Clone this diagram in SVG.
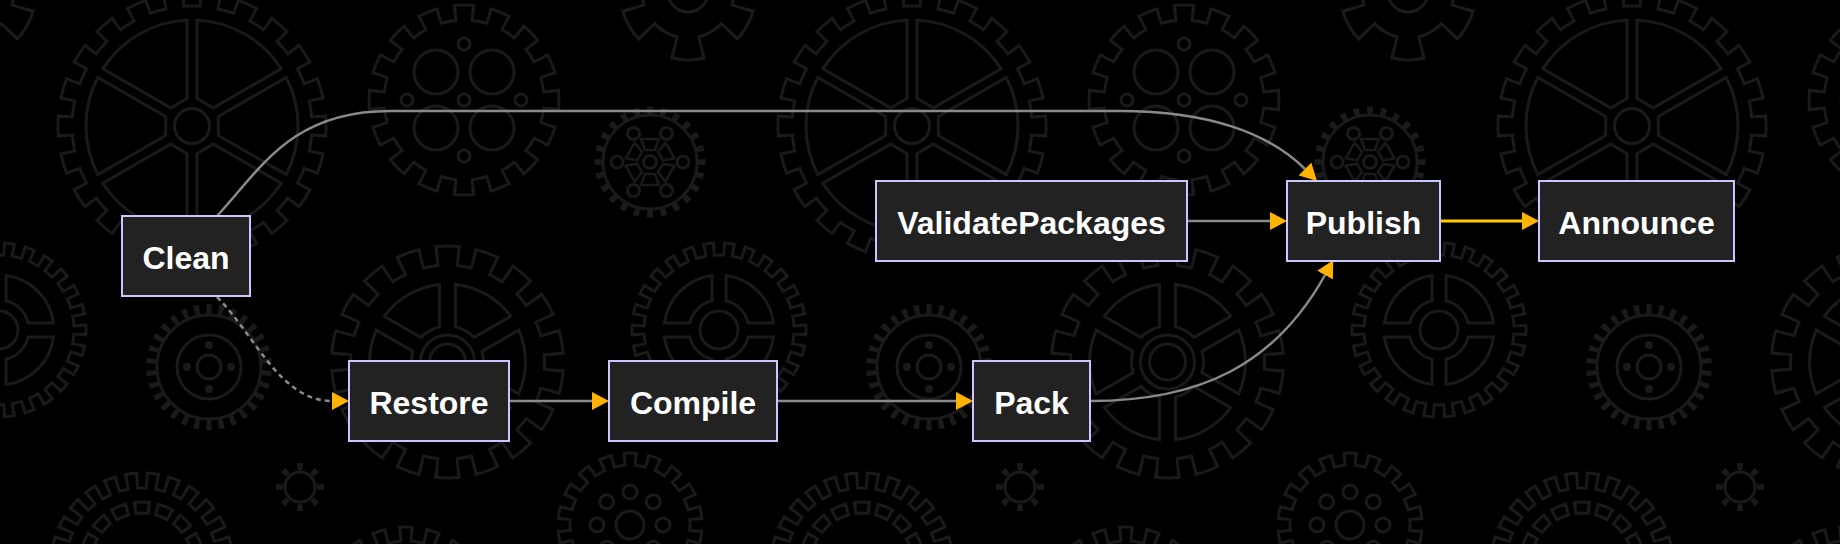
<svg xmlns="http://www.w3.org/2000/svg" xmlns:xlink="http://www.w3.org/1999/xlink" width="1840" height="544" viewBox="0 0 1840 544">
<style>
.ln{fill:none;stroke:#1a1a1a;stroke-width:3}
.gd{fill:#1a1a1a}
.bk{fill:#000}
.tg{fill:none;stroke:#1a1a1a}
.tb{fill:none;stroke:#000}
.node rect{fill:#222;stroke:#c8c8ff;stroke-width:2}
.node text{fill:#fff;font-family:"Liberation Sans",Arial,Helvetica,sans-serif;font-weight:bold;font-size:32px;text-anchor:middle}
.edge{fill:none;stroke:#8a8a8a;stroke-width:2.5}
.dash{stroke-dasharray:5 4}
.hl{fill:none;stroke:#ffcc00;stroke-width:3}
</style>
<defs>
<marker id="arr" markerUnits="userSpaceOnUse" markerWidth="18" markerHeight="18" refX="0" refY="9" orient="auto" viewBox="0 0 18 18">
<path d="M0,0 L17,9 L0,18 Z" fill="#ffb300"/>
</marker>
<path id="winA" class="ln" d="M26.36,-9.45 L94.19,-48.61 A106,106 0 0 1 94.19,48.61 L26.36,9.45 Z"/>
<path id="winD" class="ln" d="M25.58,-15.68 L43.52,-33.62 A55,55 0 0 1 43.52,33.62 L25.58,15.68 A30,30 0 0 0 25.58,-15.68 Z"/>
<path id="winF" class="ln" d="M34.40,-10.62 L71.19,-31.87 A78,78 0 0 1 71.19,31.87 L34.40,10.62 A36,36 0 0 0 34.40,-10.62 Z"/>
<polygon id="trapC" points="12,-5 23,-9 23,9 12,5" fill="none" stroke="#1a1a1a" stroke-width="2.5"/>
<g id="tile">
<g transform="translate(192,126)">
<circle class="tg" r="125.25" stroke-width="20.5" pathLength="360" stroke-dasharray="9.9 6.4636" stroke-dashoffset="4.95"/>
<circle class="gd" r="121.5"/>
<circle class="tb" r="123.75" stroke-width="17.5" pathLength="360" stroke-dasharray="7.2 9.1636" stroke-dashoffset="3.6"/>
<circle class="bk" r="118.5"/>
<use href="#winA"/>
<use href="#winA" transform="rotate(60)"/>
<use href="#winA" transform="rotate(120)"/>
<use href="#winA" transform="rotate(180)"/>
<use href="#winA" transform="rotate(240)"/>
<use href="#winA" transform="rotate(300)"/>
<circle class="ln" r="17.5"/>
</g>
<g transform="translate(464,100)">
<circle class="tg" r="85.75" stroke-width="21.5" pathLength="360" stroke-dasharray="13.73 8.77" stroke-dashoffset="6.865"/>
<circle class="gd" r="81.5"/>
<circle class="tb" r="84.25" stroke-width="18.5" pathLength="360" stroke-dasharray="9.8 12.7" stroke-dashoffset="4.9"/>
<circle class="bk" r="78.5"/>
<circle class="ln" cx="-28" cy="-28" r="22"/>
<circle class="ln" cx="28" cy="-28" r="22"/>
<circle class="ln" cx="-28" cy="28" r="22"/>
<circle class="ln" cx="28" cy="28" r="22"/>
<circle class="ln" cx="0" cy="-56" r="6"/>
<circle class="ln" cx="-57" cy="0" r="6"/>
<circle class="ln" cx="0" cy="0" r="6"/>
<circle class="ln" cx="57" cy="0" r="6"/>
<circle class="ln" cx="0" cy="56" r="6"/>
</g>
<g transform="translate(650,162)">
<circle class="ln" r="47"/>
<circle class="tg" r="51.5" stroke-width="8" pathLength="360" stroke-dasharray="6.5 8.5" stroke-dashoffset="3.25"/>
<circle class="ln" cx="33" cy="0" r="6"/>
<circle class="ln" cx="16.5" cy="28.58" r="6"/>
<circle class="ln" cx="-16.5" cy="28.58" r="6"/>
<circle class="ln" cx="-33" cy="0" r="6"/>
<circle class="ln" cx="-16.5" cy="-28.58" r="6"/>
<circle class="ln" cx="16.5" cy="-28.58" r="6"/>
<circle class="ln" r="6.5"/>
<use href="#trapC" transform="rotate(-90)"/>
<use href="#trapC" transform="rotate(-30)"/>
<use href="#trapC" transform="rotate(30)"/>
<use href="#trapC" transform="rotate(90)"/>
<use href="#trapC" transform="rotate(150)"/>
<use href="#trapC" transform="rotate(210)"/>
</g>
<g transform="translate(719,330)">
<circle class="tg" r="79.25" stroke-width="18.5" pathLength="360" stroke-dasharray="8.49 5.3562" stroke-dashoffset="4.245"/>
<circle class="gd" r="76.5"/>
<circle class="tb" r="77.75" stroke-width="15.5" pathLength="360" stroke-dasharray="4.24 9.6062" stroke-dashoffset="2.12"/>
<circle class="bk" r="73.5"/>
<use href="#winD" transform="rotate(45)"/>
<use href="#winD" transform="rotate(135)"/>
<use href="#winD" transform="rotate(225)"/>
<use href="#winD" transform="rotate(315)"/>
<circle class="ln" r="19"/>
</g>
<g transform="translate(209,367)">
<circle class="ln" r="52" stroke-width="3.5"/>
<circle class="tg" r="57.5" stroke-width="11" pathLength="360" stroke-dasharray="5 7" stroke-dashoffset="2.5" transform="rotate(6)"/>
<circle class="ln" r="32"/>
<circle class="ln" r="12"/>
<circle class="gd" cx="22" cy="0" r="4"/>
<circle class="gd" cx="-22" cy="0" r="4"/>
<circle class="gd" cx="0" cy="22" r="4"/>
<circle class="gd" cx="0" cy="-22" r="4"/>
</g>
<g transform="translate(447.5,362)">
<g transform="rotate(10)">
<circle class="tg" r="104.75" stroke-width="25.5" pathLength="360" stroke-dasharray="12.97 7.03" stroke-dashoffset="6.485"/>
<circle class="gd" r="98.5"/>
<circle class="tb" r="103.25" stroke-width="22.5" pathLength="360" stroke-dasharray="9.73 10.27" stroke-dashoffset="4.865"/>
<circle class="bk" r="95.5"/>
</g>
<use href="#winF"/>
<use href="#winF" transform="rotate(60)"/>
<use href="#winF" transform="rotate(120)"/>
<use href="#winF" transform="rotate(180)"/>
<use href="#winF" transform="rotate(240)"/>
<use href="#winF" transform="rotate(300)"/>
<circle class="ln" r="27"/>
<circle class="ln" r="18"/>
</g>
<g transform="translate(300,487)">
<circle class="ln" r="15" stroke-width="5"/>
<circle class="tg" r="20.5" stroke-width="7" pathLength="360" stroke-dasharray="16 29" stroke-dashoffset="8"/>
</g>
<g transform="translate(142,564)">
<circle class="tg" r="81.75" stroke-width="21.5" pathLength="360" stroke-dasharray="9.12 4.7262" stroke-dashoffset="4.56"/>
<circle class="gd" r="77.5"/>
<circle class="tb" r="80.25" stroke-width="18.5" pathLength="360" stroke-dasharray="5 8.8462" stroke-dashoffset="2.5"/>
<circle class="bk" r="74.5"/>
<circle class="tg" r="56.5" stroke-width="14" pathLength="360" stroke-dasharray="17 5.5" stroke-dashoffset="8.5"/>
<circle class="tb" r="56.5" stroke-width="8" pathLength="360" stroke-dasharray="10.9 11.6" stroke-dashoffset="5.45"/>
</g>
<g transform="translate(630,525)">
<g transform="rotate(10)">
<circle class="tg" r="64.25" stroke-width="18.5" pathLength="360" stroke-dasharray="12.2 7.8" stroke-dashoffset="6.1"/>
<circle class="gd" r="61.5"/>
<circle class="tb" r="62.75" stroke-width="15.5" pathLength="360" stroke-dasharray="7 13" stroke-dashoffset="3.5"/>
<circle class="bk" r="58.5"/>
</g>
<circle class="ln" r="14"/>
<circle class="ln" cx="0" cy="-33" r="7"/>
<circle class="ln" cx="23.3" cy="-23.3" r="7"/>
<circle class="ln" cx="33" cy="0" r="7"/>
<circle class="ln" cx="23.3" cy="23.3" r="7"/>
<circle class="ln" cx="0" cy="33" r="7"/>
<circle class="ln" cx="-23.3" cy="23.3" r="7"/>
<circle class="ln" cx="-33" cy="0" r="7"/>
<circle class="ln" cx="-23.3" cy="-23.3" r="7"/>
</g>
<g transform="translate(688,-8)">
<g transform="rotate(30)">
<circle class="tg" r="55.25" stroke-width="28.5" pathLength="360" stroke-dasharray="30 30" stroke-dashoffset="15"/>
<circle class="gd" r="47.5"/>
<circle class="tb" r="53.75" stroke-width="25.5" pathLength="360" stroke-dasharray="24 36" stroke-dashoffset="12"/>
<circle class="bk" r="44.5"/>
</g>
<circle class="ln" r="20"/>
</g>
<g transform="translate(406,615)">
<circle class="tg" r="79.25" stroke-width="20.5" pathLength="360" stroke-dasharray="10.24 7.76" stroke-dashoffset="5.12"/>
<circle class="gd" r="75.5"/>
<circle class="tb" r="77.75" stroke-width="17.5" pathLength="360" stroke-dasharray="6 12" stroke-dashoffset="3"/>
<circle class="bk" r="72.5"/>
</g>
</g>
</defs>
<rect x="0" y="0" width="1840" height="544" fill="#000"/>
<g id="background">
<use href="#tile" transform="translate(-720,0)"/>
<use href="#tile"/>
<use href="#tile" transform="translate(720,0)"/>
<use href="#tile" transform="translate(1440,0)"/>
</g>
<g id="edges">
<path class="edge" d="M217,216 C260,170 290,111 390,111 L1120,111 C1210,111 1270,134 1305,169" marker-end="url(#arr)"/>
<path class="edge dash" d="M217,297 C255,335 280,401 332,401" marker-end="url(#arr)"/>
<path class="edge" d="M509,401 L592,401" marker-end="url(#arr)"/>
<path class="edge" d="M777,401 L956,401" marker-end="url(#arr)"/>
<path class="edge" d="M1090,401 C1200,401 1275,365 1325,275" marker-end="url(#arr)"/>
<path class="edge" d="M1187,221 L1270,221" marker-end="url(#arr)"/>
<path class="hl" d="M1440,221 L1522,221" marker-end="url(#arr)"/>
</g>
<g id="node-Clean" class="node"><rect x="122" y="216" width="128" height="80"/><text x="186" y="268.5">Clean</text></g>
<g id="node-Restore" class="node"><rect x="349" y="361" width="160" height="80"/><text x="429" y="413.5">Restore</text></g>
<g id="node-Compile" class="node"><rect x="609" y="361" width="168" height="80"/><text x="693" y="413.5">Compile</text></g>
<g id="node-Pack" class="node"><rect x="973" y="361" width="117" height="80"/><text x="1031.5" y="413.5">Pack</text></g>
<g id="node-ValidatePackages" class="node"><rect x="876" y="181" width="311" height="80"/><text x="1031.5" y="233.5">ValidatePackages</text></g>
<g id="node-Publish" class="node"><rect x="1287" y="181" width="153" height="80"/><text x="1363.5" y="233.5">Publish</text></g>
<g id="node-Announce" class="node"><rect x="1539" y="181" width="195" height="80"/><text x="1636.5" y="233.5">Announce</text></g>
</svg>
